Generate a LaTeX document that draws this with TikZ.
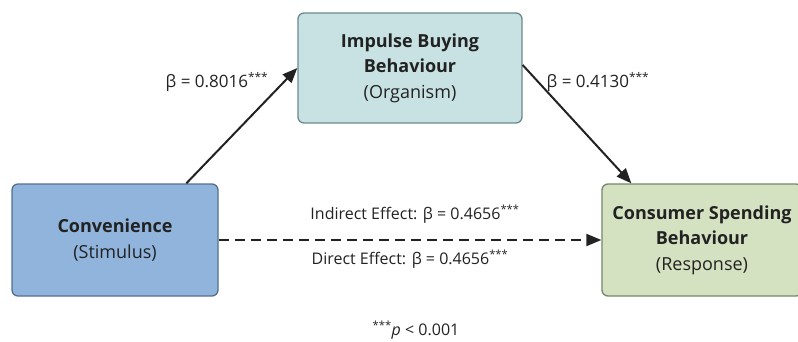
\documentclass[tikz,border=0pt]{standalone}
\usepackage{fontspec}
\setmainfont{Open Sans}
\usetikzlibrary{arrows.meta,calc}
\definecolor{impfill}{HTML}{C8E2E3}
\definecolor{impdraw}{HTML}{6A8A8B}
\definecolor{convfill}{HTML}{90B4DC}
\definecolor{convdraw}{HTML}{55708F}
\definecolor{consfill}{HTML}{D4E2C2}
\definecolor{consdraw}{HTML}{76866A}
\definecolor{ink}{HTML}{222222}
\tikzset{
  x=1pt, y=-1pt,
  boxnode/.style={rectangle, rounded corners=6pt, line width=1.3pt, inner sep=0pt,
    align=center, text=ink, font=\fontsize{18}{25.5}\selectfont},
  lbl/.style={text=ink, font=\fontsize{16}{18}\selectfont, inner sep=0pt},
  biglbl/.style={text=ink, font=\fontsize{17}{18}\selectfont, inner sep=0pt},
  arr/.style={line width=2pt, draw=ink, -{Triangle[length=15pt,width=12pt]}},
}
\begin{document}
\begin{tikzpicture}
\useasboundingbox (0,0) rectangle (798,342);
\node[boxnode, fill=impfill, draw=impdraw, minimum width=224pt, minimum height=110pt] (imp) at (410,68)
  {\textbf{Impulse Buying}\\\textbf{Behaviour}\\(Organism)};
\node[boxnode, fill=convfill, draw=convdraw, minimum width=206pt, minimum height=112pt] (conv) at (115,240)
  {\textbf{Convenience}\\(Stimulus)};
\node[boxnode, fill=consfill, draw=consdraw, minimum width=200pt, minimum height=112pt] (cons) at (702,240)
  {\textbf{Consumer Spending}\\\textbf{Behaviour}\\(Response)};
\coordinate (s1) at ($(conv.north west)+(175,0)$);
\coordinate (e2) at ($(cons.north west)+(30,0)$);
\draw[arr] (s1) -- (imp.west);
\draw[arr] ($(imp.east)+(0,-3)$) -- (e2);
\draw[arr, dash pattern=on 10pt off 6pt] (conv.east) -- (cons.west);
\node[biglbl] (l1) at (217,82) {β = 0.8016\textsuperscript{***}};
\node[biglbl] (l2) at (598,82) {β = 0.4130\textsuperscript{***}};
\node[lbl] (l3) at (415,214) {Indirect Effect: β = 0.4656\textsuperscript{***}};
\node[lbl] (l4) at (410,259) {Direct Effect: β = 0.4656\textsuperscript{***}};
\node[lbl] (l5) at (416,330) {\textsuperscript{***}\textit{p} < 0.001};
\end{tikzpicture}
\end{document}
